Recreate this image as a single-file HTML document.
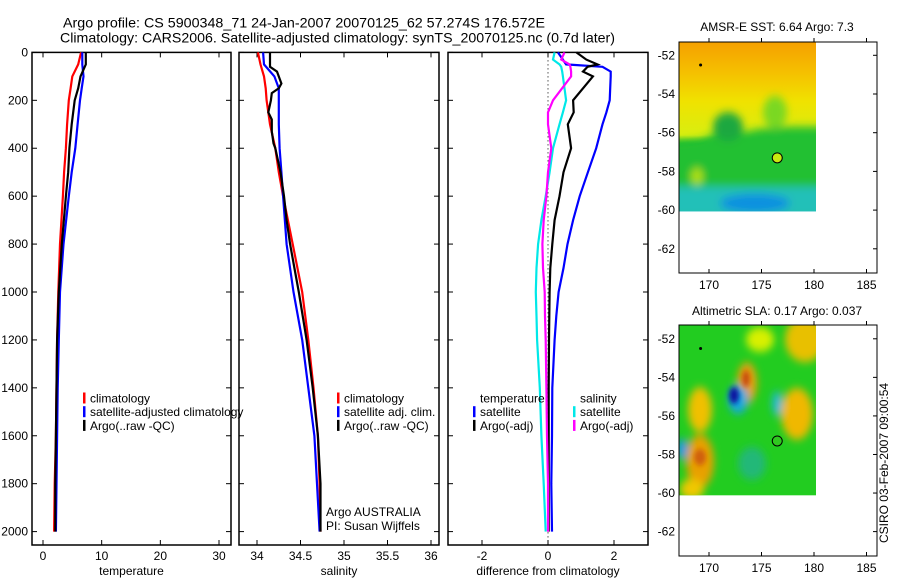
<!DOCTYPE html>
<html><head><meta charset="utf-8">
<style>
body{margin:0;background:#fff;}
svg{display:block;font-family:"Liberation Sans",sans-serif;}
text{fill:#000;}
</style></head>
<body>
<svg id="fig" width="900" height="580" viewBox="0 0 900 580" xmlns="http://www.w3.org/2000/svg">
<defs>
<filter id="blur1" x="-20%" y="-20%" width="140%" height="140%"><feGaussianBlur stdDeviation="4"/></filter>
<filter id="blur2" x="-20%" y="-20%" width="140%" height="140%"><feGaussianBlur stdDeviation="2.5"/></filter>
<clipPath id="clipTop"><rect x="679" y="42" width="137" height="164"/></clipPath>
<clipPath id="clipBot"><rect x="679" y="316" width="137" height="165"/></clipPath>
<linearGradient id="sstGrad" x1="0" y1="0" x2="0" y2="1">
<stop offset="0" stop-color="#f5a000"/><stop offset="0.18" stop-color="#f5c000"/><stop offset="0.35" stop-color="#f0e200"/><stop offset="0.55" stop-color="#d8ee10"/><stop offset="0.6" stop-color="#2ac22a"/><stop offset="0.78" stop-color="#1fb84a"/><stop offset="0.88" stop-color="#20c0b0"/><stop offset="1" stop-color="#10a8e8"/>
</linearGradient>
</defs>
<text x="63" y="27.5" font-size="14" textLength="482" lengthAdjust="spacingAndGlyphs">Argo profile: CS 5900348_71 24-Jan-2007 20070125_62 57.274S 176.572E</text>
<text x="60" y="42.5" font-size="14" textLength="555" lengthAdjust="spacingAndGlyphs">Climatology: CARS2006. Satellite-adjusted climatology: synTS_20070125.nc (0.7d later)</text>
<g id="plots"></g>
<g id="maps" transform="matrix(1 0 0 1.0327 0 -1.31)">
 <g clip-path="url(#clipTop)">
  <rect x="679" y="42" width="137" height="164" fill="url(#sstGrad)"/>
  <g filter="url(#blur1)">
   <path d="M670 140 L700 137 L720 128 L740 130 L760 126 L790 124 L830 124 L830 215 L670 215 Z" fill="#22c030"/>
   <ellipse cx="728" cy="124" rx="15" ry="14" fill="#1aa840"/>
   <ellipse cx="775" cy="110" rx="12" ry="16" fill="#7ad820"/>
   <rect x="670" y="182" width="160" height="30" fill="#20c0b8"/>
   <ellipse cx="755" cy="198" rx="35" ry="9" fill="#1090e0"/>
   <ellipse cx="697" cy="172" rx="6" ry="8" fill="#b0e010"/>
  </g>
 </g>
 <g clip-path="url(#clipBot)">
  <rect x="679" y="316" width="137" height="165" fill="#22cc20"/>
  <g filter="url(#blur1)">
   <ellipse cx="805" cy="330" rx="20" ry="22" fill="#e8c000"/>
   <ellipse cx="760" cy="330" rx="14" ry="12" fill="#d8f000"/>
   <ellipse cx="747" cy="372" rx="10" ry="20" fill="#e8a010"/>
   <ellipse cx="700" cy="398" rx="12" ry="22" fill="#f0c000"/>
   <ellipse cx="700" cy="448" rx="14" ry="26" fill="#e8a000"/>
   <ellipse cx="692" cy="475" rx="12" ry="10" fill="#f0c800"/>
   <ellipse cx="797" cy="402" rx="16" ry="25" fill="#f0b800"/>
   <ellipse cx="738" cy="388" rx="10" ry="14" fill="#18a8e0"/>
   <ellipse cx="777" cy="392" rx="5" ry="12" fill="#20b8d8"/>
   <ellipse cx="682" cy="436" rx="6" ry="10" fill="#1898e0"/>
   <ellipse cx="752" cy="450" rx="14" ry="16" fill="#20b878"/>
  </g>
  <g filter="url(#blur2)">
   <ellipse cx="734" cy="384" rx="5" ry="8" fill="#0818a0"/>
   <ellipse cx="746" cy="368" rx="4" ry="8" fill="#c85010"/>
   <ellipse cx="700" cy="444" rx="6" ry="8" fill="#d06010"/>
  </g>
 </g>
</g>
<g id="mapaxes"></g>
</svg>
<script>
// ---------- data ----------
const depths      = [0,50,100,150,200,300,400,500,600,800,1000,1200,1400,1600,1800,2000];
const tempClim    = [6.5,6.0,5.0,4.7,4.4,4.1,3.9,3.6,3.4,2.9,2.6,2.4,2.3,2.2,2.0,1.9];
const tempSat     = [6.7,6.7,6.9,6.6,6.3,5.9,5.5,4.9,4.4,3.5,2.9,2.7,2.5,2.4,2.3,2.2];
const tempArgo    = [7.3,7.3,6.4,6.0,5.4,4.9,4.5,4.3,3.9,3.2,2.7,2.4,2.3,2.2,2.1,2.1];
const salClim     = [34.01,34.04,34.08,34.10,34.11,34.15,34.21,34.25,34.30,34.41,34.52,34.59,34.65,34.70,34.72,34.73];
const salSat      = [34.07,34.08,34.20,34.25,34.25,34.25,34.26,34.28,34.30,34.34,34.42,34.52,34.59,34.66,34.69,34.72];
const salArgoDepth= [0,60,80,130,150,170,200,250,280,330,380,400,500,600,700,800,900,1000,1200,1400,1600,1800,2000];
const salArgo     = [34.15,34.15,34.23,34.28,34.25,34.17,34.16,34.13,34.17,34.17,34.19,34.21,34.27,34.31,34.34,34.38,34.43,34.48,34.57,34.64,34.70,34.73,34.73];
const diffDepth   = [0,30,50,60,80,100,200,250,300,400,500,600,700,800,900,1000,1100,1200,1400,1600,1800,2000];
const diffTempSat = [0.30,0.45,0.55,1.65,1.90,1.90,1.87,1.77,1.65,1.46,1.21,0.96,0.76,0.59,0.47,0.32,0.25,0.20,0.13,0.12,0.10,0.12];
const diffTempArgo= [0.86,1.16,1.50,1.20,1.06,1.36,0.76,0.78,0.60,0.70,0.47,0.35,0.20,0.13,0.07,0.05,0.04,0.03,0.02,0.02,0.02,0.02];
const diffSalSat  = [0.20,0.15,0.35,0.40,0.43,0.45,0.55,0.45,0.35,0.15,0.05,-0.07,-0.20,-0.30,-0.35,-0.37,-0.35,-0.33,-0.25,-0.20,-0.13,-0.07];
const diffSalArgo = [0.50,0.40,0.65,0.68,0.70,0.70,0.15,0.00,0.00,0.10,0.00,-0.05,-0.13,-0.17,-0.15,-0.10,-0.09,-0.07,-0.05,-0.03,0.00,0.00];
const depthTicks  = [0,200,400,600,800,1000,1200,1400,1600,1800,2000];
const tempTicks   = [0,10,20,30];
const salTicks    = [34,34.5,35,35.5,36];
const salTickLabels = ["34","34.5","35","35.5","36"];
const diffTicks   = [-2,0,2];
const lonTicks    = [170,175,180,185];
const latTicks    = [-52,-54,-56,-58,-60,-62];

// ---------- helpers ----------
const NS="http://www.w3.org/2000/svg";
const root=document.getElementById('plots');
function mk(tag,attrs,parent){const e=document.createElementNS(NS,tag);for(const k in attrs)e.setAttribute(k,attrs[k]);(parent||root).appendChild(e);return e;}
function txt(s,x,y,size,anchor,parent){const t=mk('text',{x:x,y:y,'font-size':size,'text-anchor':anchor||'start'},parent);t.textContent=s;return t;}
const yTop=52.4,yBot=545;
const yD=d=>52.4+d*0.2396;

function panel(name,x0,x1,xs,ticks,labels,title){
  const g=mk('g',{});
  
  
  const fr=mk('rect',{x:x0,y:yTop,width:x1-x0,height:yBot-yTop,fill:'none',stroke:'#000','stroke-width':1.5},g);
  
  
  ticks.forEach((v,i)=>{
    const x=xs(v);
    mk('line',{x1:x,y1:yBot,x2:x,y2:yBot-5,stroke:'#000'},g);
    mk('line',{x1:x,y1:yTop,x2:x,y2:yTop+5,stroke:'#000'},g);
    const t=txt(labels[i],x,560,12,'middle',g);
    
    
  });
  depthTicks.forEach(d=>{
    const y=yD(d);
    mk('line',{x1:x0,y1:y,x2:x0+5,y2:y,stroke:'#000'},g);
    mk('line',{x1:x1,y1:y,x2:x1-5,y2:y,stroke:'#000'},g);
  });
  const at=txt(title,(x0+x1)/2,575,12,'middle',g);
  
  
  return g;
}
function line(g,xs,vals,ds,color,name){
  const pts=vals.map((v,i)=>xs(v).toFixed(1)+','+yD(ds[i]).toFixed(1)).join(' ');
  const p=mk('polyline',{points:pts,fill:'none',stroke:color,'stroke-width':2.2},g);
  
  
}
function legend(g,x,y,items){
  items.forEach((it,i)=>{
    if(it[1]){mk('rect',{x:x,y:y+i*13.7-5.5,width:2.5,height:11,fill:it[1]},g);}
    const t=txt(it[0],x+7,y+i*13.7+4.5,12,'start',g);
    
    
  });
}

depthTicks.forEach(d=>{
  const t=txt(String(d),28,yD(d)+4,12,'end');
  
  
});

const xT=v=>43+v*5.867;
const g1=panel('temperature-panel',32,231,xT,tempTicks,tempTicks.map(String),'temperature');
line(g1,xT,tempClim,depths,'#ff0000','temp-climatology-line');
line(g1,xT,tempSat,depths,'#0000ff','temp-satellite-line');
line(g1,xT,tempArgo,depths,'#000000','temp-argo-line');
legend(g1,83,398,[['climatology','#ff0000'],['satellite-adjusted climatology','#0000ff'],['Argo(..raw -QC)','#000']]);

const xS=v=>257+(v-34)*87;
const g2=panel('salinity-panel',239,439,xS,salTicks,salTickLabels,'salinity');
line(g2,xS,salClim,depths,'#ff0000','sal-climatology-line');
line(g2,xS,salSat,depths,'#0000ff','sal-satellite-line');
line(g2,xS,salArgo,salArgoDepth,'#000000','sal-argo-line');
legend(g2,337,398,[['climatology','#ff0000'],['satellite adj. clim.','#0000ff'],['Argo(..raw -QC)','#000']]);
txt('Argo AUSTRALIA',326,516,12,'start',g2);
txt('PI: Susan Wijffels',326,530,12,'start',g2);

const xDf=v=>548+v*33;
const g3=panel('difference-panel',448,648,xDf,diffTicks,diffTicks.map(String),'difference from climatology');
mk('line',{x1:xDf(0),y1:yTop,x2:xDf(0),y2:yBot,stroke:'#000','stroke-dasharray':'1,3'},g3);
line(g3,xDf,diffTempSat,diffDepth,'#0000ff','diff-temp-satellite-line');
line(g3,xDf,diffTempArgo,diffDepth,'#000000','diff-temp-argo-line');
line(g3,xDf,diffSalSat,diffDepth,'#00e8e8','diff-sal-satellite-line');
line(g3,xDf,diffSalArgo,diffDepth,'#ff00ff','diff-sal-argo-line');
legend(g3,473,398,[['temperature',null],['satellite','#0000ff'],['Argo(-adj)','#000']]);
legend(g3,573,398,[['salinity',null],['satellite','#00e8e8'],['Argo(-adj)','#ff00ff']]);

const mroot=document.getElementById('mapaxes');
function mapAxes(name,y0,y1,lat52y,perDeg,title,titleY,circFill){
  const g=mk('g',{},mroot);
  
  
  const xL=v=>709+(v-170)*10.5;
  const yL=v=>lat52y+(-52-v)*perDeg;
  const fr=mk('rect',{x:679,y:y0,width:198,height:y1-y0,fill:'none',stroke:'#000','stroke-width':1},g);
  
  
  lonTicks.forEach(v=>{
    mk('line',{x1:xL(v),y1:y1,x2:xL(v),y2:y1-4,stroke:'#000'},g);
    mk('line',{x1:xL(v),y1:y0,x2:xL(v),y2:y0-4,stroke:'#000'},g);
    txt(String(v),xL(v),y1+16,12,'middle',g);
  });
  latTicks.forEach(v=>{
    mk('line',{x1:877,y1:yL(v),x2:873,y2:yL(v),stroke:'#000'},g);
    txt(String(v),675,yL(v)+4,12,'end',g);
  });
  const t=txt(title,777,titleY,12,'middle',g);
  
  
  mk('circle',{cx:xL(169.2),cy:yL(-52.5),r:1.5,fill:'#000'},g);
  const c=mk('circle',{cx:xL(176.5),cy:yL(-57.3),r:5,fill:circFill,stroke:'#000','stroke-width':1},g);
  
  
}
mapAxes('sst-map',42,273,55.3,19.35,'AMSR-E SST: 6.64 Argo: 7.3',31,'#c8e810');
mapAxes('sla-map',325,556,338.8,19.28,'Altimetric SLA: 0.17 Argo: 0.037',315,'#30c820');
const ft=txt('CSIRO 03-Feb-2007 09:00:54',0,0,12,'middle');
ft.setAttribute('transform','translate(888,463) rotate(-90)');


</script>
</body></html>
